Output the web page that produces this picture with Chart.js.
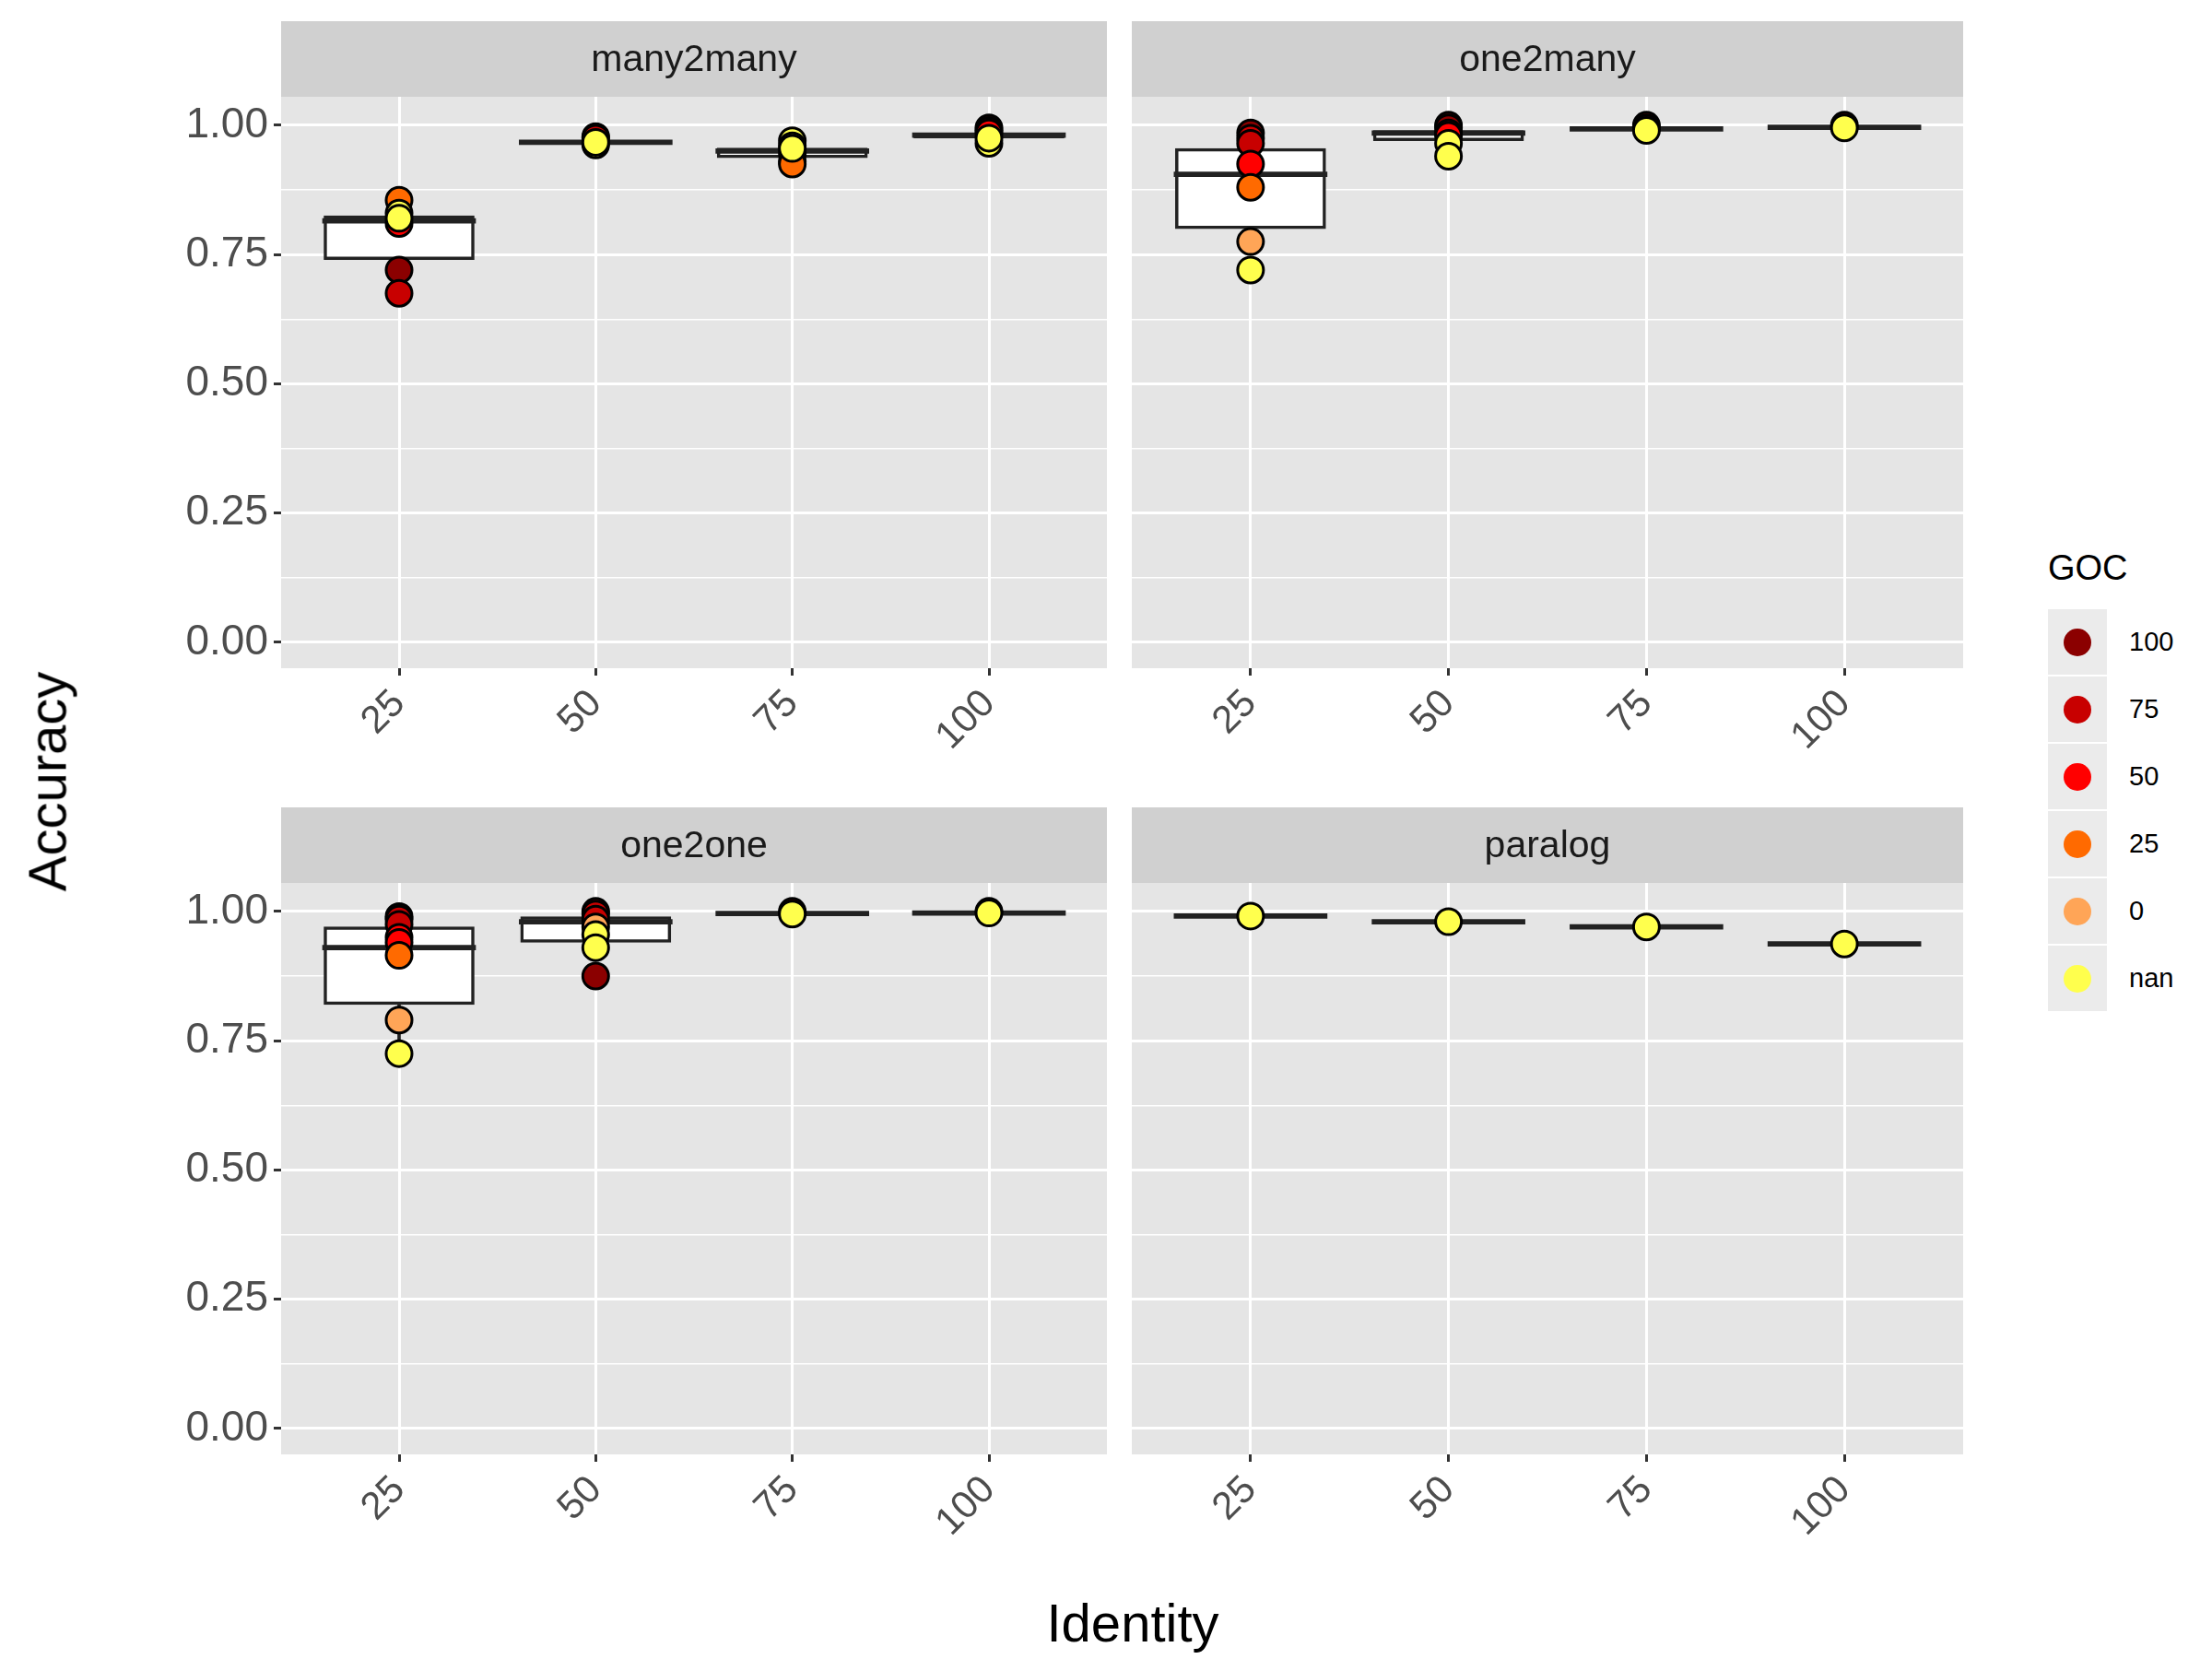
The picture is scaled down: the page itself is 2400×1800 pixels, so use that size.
<!DOCTYPE html>
<html><head><meta charset="utf-8">
<script src="https://cdn.jsdelivr.net/npm/chart.js@4"></script>
<style>
body{margin:0;width:2400px;height:1800px;background:#fff;position:relative;font-family:"Liberation Sans",Arial,sans-serif;overflow:hidden}
canvas{position:absolute}
.t{position:absolute;color:#000}
</style></head><body>
<canvas id="c0"></canvas><canvas id="c1"></canvas><canvas id="c2"></canvas><canvas id="c3"></canvas>
<div class="t" style="left:1229px;top:1760px;transform:translate(-50%,-50%);font-size:58px">Identity</div>
<div class="t" style="left:51px;top:848px;transform:translate(-50%,-50%) rotate(-90deg);font-size:58px">Accuracy</div>
<div id="legend" style="position:absolute;left:2222px;top:595px"></div>
<script>
const categories = ['25','50','75','100'];
const yTickLabels = ['0.00','0.25','0.50','0.75','1.00'];
const panelNames = ['many2many','one2many','one2one','paralog'];
const gocLevels = ['100','75','50','25','0','nan'];
const gocColors = ['#8B0000','#C80000','#FF0000','#FF6A00','#FFA557','#FFFF4D'];

// box stats per panel, per category
const m2m_q1 = [0.740,0.964,0.937,0.975], m2m_med=[0.815,0.967,0.950,0.981], m2m_q3=[0.825,0.969,0.956,0.985], m2m_wlo=[0.740,0.964,0.937,0.975];
const o2m_q1 = [0.800,0.970,0.990,0.995], o2m_med=[0.905,0.985,0.993,0.996], o2m_q3=[0.955,0.990,0.995,0.997], o2m_wlo=[0.800,0.970,0.990,0.995];
const o2o_q1 = [0.820,0.940,0.994,0.996], o2o_med=[0.930,0.980,0.996,0.997], o2o_q3=[0.970,0.990,0.998,0.999], o2o_wlo=[0.725,0.940,0.994,0.996];
const par_q1 = [0.990,0.979,0.969,0.936], par_med=[0.991,0.980,0.970,0.937], par_q3=[0.992,0.981,0.971,0.938], par_wlo=[0.990,0.979,0.969,0.936];

// points: category index, accuracy, GOC index
const m2m_px = [0,0,0,0,0,0, 1,1,1,1, 2,2,2,2,2,2, 3,3,3,3,3];
const m2m_py = [0.855,0.830,0.810,0.820,0.720,0.675, 0.978,0.975,0.962,0.967, 0.970,0.960,0.945,0.930,0.925,0.955, 0.995,0.990,0.985,0.965,0.975];
const m2m_pg = [3,5,2,5,0,1, 0,1,5,5, 5,5,0,2,3,5, 0,1,2,5,5];
const o2m_px = [0,0,0,0,0,0,0, 1,1,1,1,1,1, 2,2,2, 3,3];
const o2m_py = [0.985,0.975,0.965,0.925,0.880,0.775,0.720, 1.000,0.995,0.985,0.980,0.965,0.940, 1.000,0.995,0.990, 1.000,0.995];
const o2m_pg = [0,1,1,2,3,4,5, 0,0,1,2,5,5, 0,0,5, 0,5];
const o2o_px = [0,0,0,0,0,0,0,0, 1,1,1,1,1,1,1, 2,2, 3,3];
const o2o_py = [0.990,0.985,0.975,0.950,0.940,0.915,0.790,0.725, 1.000,0.995,0.985,0.970,0.955,0.930,0.875, 1.000,0.995, 1.000,0.997];
const o2o_pg = [0,1,1,2,2,3,4,5, 0,1,1,4,5,5,0, 0,5, 0,5];
const par_px = [0,1,2,3];
const par_py = [0.991,0.980,0.970,0.937];
const par_pg = [5,5,5,5];

const stats = [[m2m_q1,m2m_med,m2m_q3,m2m_wlo,m2m_px,m2m_py,m2m_pg],[o2m_q1,o2m_med,o2m_q3,o2m_wlo,o2m_px,o2m_py,o2m_pg],
               [o2o_q1,o2o_med,o2o_q3,o2o_wlo,o2o_px,o2o_py,o2o_pg],[par_q1,par_med,par_q3,par_wlo,par_px,par_py,par_pg]];

const STRIP=82, PLOT_H=620, XAX=150, YAX=305;
const layouts=[{l:0,t:23,w:1218,yax:true},{l:1211,t:23,w:936,yax:false},{l:0,t:876,w:1218,yax:true},{l:1211,t:876,w:936,yax:false}];
const yTicks=[]; for(let i=0;i<=8;i++) yTicks.push(i*0.125);

const stripPlugin={id:'strip',beforeDraw(c,a,o){const ctx=c.ctx,ca=c.chartArea;ctx.save();
 ctx.fillStyle='#E5E5E5';ctx.fillRect(ca.left,ca.top,ca.right-ca.left,ca.bottom-ca.top);
 ctx.fillStyle='#D0D0D0';ctx.fillRect(ca.left,ca.top-STRIP,ca.right-ca.left,STRIP);
 ctx.fillStyle='#1A1A1A';ctx.font='41px "Liberation Sans"';ctx.textAlign='center';ctx.textBaseline='middle';
 ctx.fillText(o.name,(ca.left+ca.right)/2,ca.top-STRIP/2+2);ctx.restore();}};

layouts.forEach((L,i)=>{
 const cv=document.getElementById('c'+i); const H=STRIP+PLOT_H+XAX; const W=L.w;
 cv.width=W;cv.height=H;cv.style.left=L.l+'px';cv.style.top=L.t+'px';cv.style.width=W+'px';cv.style.height=H+'px';
 const [q1,med,q3,wlo,px,py,pg]=stats[i];
 const xs=categories.map((c,k)=>k+1);
 const ds=[
  {type:'bar',data:xs.map((x,k)=>({x,y:[wlo[k],q1[k]]})),backgroundColor:'#222',barThickness:3,order:4,grouped:false},
  {type:'bar',data:xs.map((x,k)=>({x,y:[q1[k],q3[k]]})),backgroundColor:'#fff',borderColor:'#222',borderWidth:3.5,borderSkipped:false,barThickness:163,order:3,grouped:false},
  {type:'bar',data:xs.map((x,k)=>({x,y:[med[k]-0.0045,med[k]+0.0045]})),backgroundColor:'#222',barThickness:166,order:2,grouped:false},
  {type:'scatter',data:px.map((x,k)=>({x:x+1,y:py[k]})),pointRadius:14,pointHoverRadius:14,pointBorderWidth:3,pointBorderColor:'#000',
   pointBackgroundColor:pg.map(g=>gocColors[g]),order:1}
 ];
 new Chart(cv,{data:{datasets:ds},plugins:[stripPlugin],options:{responsive:false,animation:false,devicePixelRatio:1,
  layout:{padding:{top:STRIP,left:0,right:0,bottom:0}},
  plugins:{legend:{display:false},tooltip:{enabled:false},strip:{name:panelNames[i]}},
  scales:{
   x:{type:'linear',offset:false,min:0.4,max:4.6,afterBuildTicks:s=>{s.ticks=xs.map(v=>({value:v}));},
    afterFit:s=>{s.height=XAX;s.paddingLeft=0;s.paddingRight=0;},
    border:{display:false},grid:{offset:false,color:'#fff',lineWidth:3,tickColor:'#333',tickLength:8,drawTicks:true},
    ticks:{callback:(v)=>categories[Math.round(v)-1],maxRotation:45,minRotation:45,color:'#4D4D4D',font:{size:42,family:'Liberation Sans'},padding:6}},
   y:{min:-0.05,max:1.055,afterBuildTicks:s=>{s.ticks=yTicks.map(v=>({value:v}));},afterFit:s=>{s.width=L.yax?YAX:0;s.paddingTop=0;s.paddingBottom=0;},
    border:{display:false},grid:{color:'#fff',lineWidth:c=>(c.tick&&Math.round(c.tick.value*1000)%250===0)?3:1.5,
     tickColor:c=>(L.yax&&c.tick&&Math.round(c.tick.value*1000)%250===0)?'#333':'rgba(0,0,0,0)',tickLength:L.yax?8:0},
    ticks:{display:L.yax,callback:v=>{const r=Math.round(v*1000);return r%250===0?yTickLabels[r/250]:'';},color:'#4D4D4D',font:{size:46,family:'Liberation Sans'},padding:6}}
  }}});
});
// legend
let h='<div style="font-size:38px;margin-bottom:22px">GOC</div>';
gocLevels.forEach((g,k)=>{h+='<div style="display:flex;align-items:center;height:73px"><div style="width:64px;height:71px;background:#EBEBEB;display:flex;align-items:center;justify-content:center;margin-right:24px"><div style="width:30px;height:30px;border-radius:50%;background:'+gocColors[k]+'"></div></div><span style="font-size:29px">'+g+'</span></div>';});
document.getElementById('legend').innerHTML=h;
</script></body></html>
